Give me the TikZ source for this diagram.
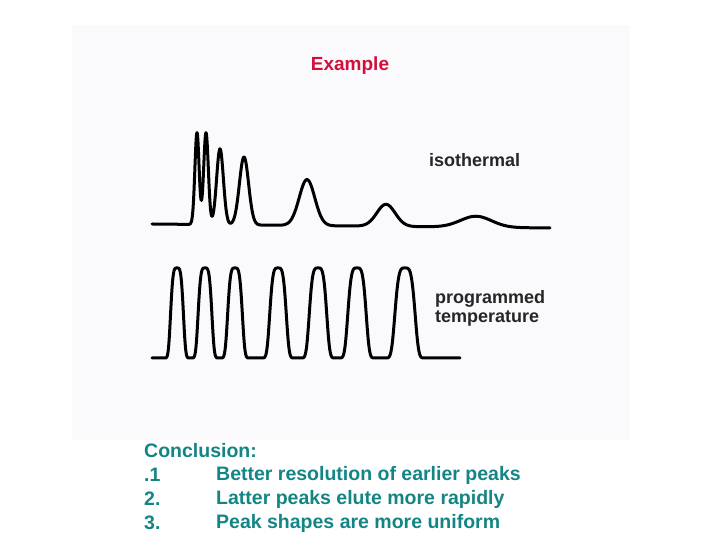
\documentclass[tikz,border=0pt]{standalone}
\usepackage{fontspec}
\setmainfont{Liberation Sans}
\definecolor{bgbox}{HTML}{FAFAFC}
\definecolor{titlered}{HTML}{D0103A}
\definecolor{teal}{HTML}{138585}
\begin{document}
\begin{tikzpicture}[x=1pt,y=-1pt,
  trace/.style={line width=3pt,line join=round,line cap=round},
  lbl/.style={font=\fontsize{18}{20}\selectfont\bfseries,inner sep=0pt,align=left,text=black!85},
  concl/.style={font=\fontsize{19.5}{24}\selectfont\bfseries,text=teal,inner sep=0pt,anchor=west}]
\useasboundingbox (0,0) rectangle (720,540);
\fill[white] (0,0) rectangle (720,540);
\fill[bgbox] (72,25) rectangle (630,440);
\node[font=\fontsize{19}{21}\selectfont\bfseries,text=titlered,inner sep=0pt] (title) at (350,66) {Example};
% isothermal trace
\draw[trace] plot[domain=152:550,samples=600,smooth] (\x,{224+4*(\x-152)/398
  -92*exp(-min(((\x-197)/3)^2,40))
  -92*exp(-min(((\x-206)/3.3)^2,40))
  -76*exp(-min(((\x-220)/4.8)^2,40))
  -68*exp(-min(((\x-244)/6.5)^2,40))
  -46*exp(-min(((\x-307)/11)^2,40))
  -22*exp(-min(((\x-386)/13)^2,40))
  -11*exp(-min(((\x-476)/22)^2,40))});
% programmed trace
\draw[trace] plot[domain=152:460,samples=600,smooth] (\x,{358
  -90*exp(-min(((\x-177)/7)^2,30)^2)
  -90*exp(-min(((\x-205)/7.5)^2,30)^2)
  -90*exp(-min(((\x-235)/8)^2,30)^2)
  -90*exp(-min(((\x-278)/9)^2,30)^2)
  -90*exp(-min(((\x-318)/9.5)^2,30)^2)
  -90*exp(-min(((\x-357)/10)^2,30)^2)
  -90*exp(-min(((\x-405)/11)^2,30)^2)});
\node[lbl,anchor=west] (iso) at (429,160) {isothermal};
\node[lbl,anchor=west] (prog) at (435,308) {programmed\\[-1pt]temperature};
\node[concl] (c0) at (144,451) {Conclusion:};
\node[concl] (c1n) at (144,475) {.1};
\node[concl] (c1) at (216,475) {Better resolution of earlier peaks};
\node[concl] (c2n) at (144,499) {2.};
\node[concl] (c2) at (216,499) {Latter peaks elute more rapidly};
\node[concl] (c3n) at (144,523) {3.};
\node[concl] (c3) at (216,523) {Peak shapes are more uniform};
\end{tikzpicture}
\end{document}
